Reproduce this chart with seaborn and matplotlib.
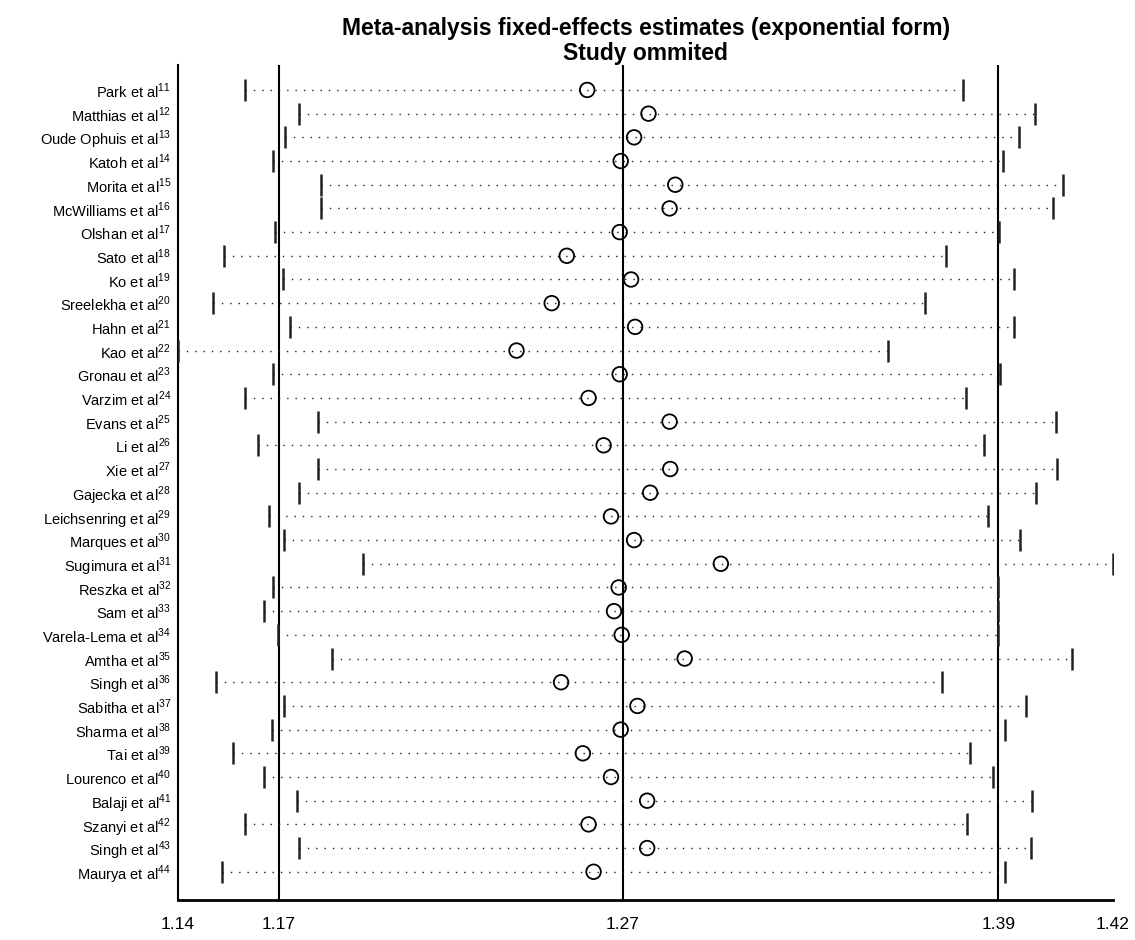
import numpy as np
import pandas as pd
import matplotlib.pyplot as plt
import seaborn as sns

studies = ["Park", "Matthias", "Oude Ophuis", "Katoh", "Morita", "McWilliams", "Olshan",
           "Sato", "Ko", "Sreelekha", "Hahn", "Kao", "Gronau", "Varzim", "Evans", "Li",
           "Xie", "Gajecka", "Leichsenring", "Marques", "Sugimura", "Reszka", "Sam",
           "Varela-Lema", "Amtha", "Singh", "Sabitha", "Sharma", "Tai", "Lourenco",
           "Balaji", "Szanyi", "Singh", "Maurya"]
refs = list(range(11, 45))

lower = [1.1617, 1.1778, 1.1737, 1.1703, 1.1845, 1.1845, 1.1707, 1.1554, 1.1731, 1.1522,
         1.1752, 1.1418, 1.1703, 1.1617, 1.1837, 1.1657, 1.1837, 1.1778, 1.1689, 1.1734,
         1.1971, 1.1703, 1.1675, 1.1717, 1.1877, 1.1532, 1.1734, 1.1698, 1.1581, 1.1676,
         1.1774, 1.1618, 1.1778, 1.1549]
estimate = [1.2640, 1.2823, 1.2780, 1.2740, 1.2903, 1.2886, 1.2737, 1.2579, 1.2771, 1.2534,
            1.2783, 1.2429, 1.2737, 1.2644, 1.2886, 1.2689, 1.2888, 1.2828, 1.2711, 1.2780,
            1.3039, 1.2734, 1.2720, 1.2743, 1.2931, 1.2562, 1.2790, 1.2740, 1.2627, 1.2711,
            1.2819, 1.2644, 1.2819, 1.2659]
upper = [1.3761, 1.3976, 1.3928, 1.3883, 1.4062, 1.4030, 1.3869, 1.3711, 1.3914, 1.3649,
         1.3914, 1.3537, 1.3872, 1.3770, 1.4040, 1.3824, 1.4044, 1.3981, 1.3837, 1.3931,
         1.4210, 1.3866, 1.3866, 1.3866, 1.4089, 1.3699, 1.3949, 1.3888, 1.3783, 1.3852,
         1.3968, 1.3775, 1.3964, 1.3888]

# overall fixed-effects estimate and its CI
overall = [1.1720, 1.2747, 1.3868]
axis_min, axis_max = 1.1418, 1.4210
tick_vals = [axis_min] + overall + [axis_max]
tick_labels = ["1.14", "1.17", "1.27", "1.39", "1.42"]

labels = [f"{s} et al$^{{\\mathregular{{{r}}}}}$" for s, r in zip(studies, refs)]
df = pd.DataFrame({"Study": labels, "Lower": lower, "Estimate": estimate, "Upper": upper})
df["pos"] = np.arange(len(df))

sns.set_style("white", {"text.color": "black", "xtick.color": "black", "ytick.color": "black"})
plt.rcParams['font.family'] = ['Liberation Sans', 'DejaVu Sans']
plt.rcParams['mathtext.fontset'] = 'custom'
plt.rcParams['mathtext.rm'] = 'Liberation Sans'

fig = plt.figure(figsize=(11.35, 9.40), dpi=100)
ax = fig.add_axes([0.1568, 0.0426, 0.8238, 0.8883])

# dotted CI lines
ax.hlines(df["pos"], df["Lower"], df["Upper"], colors="#222222",
          linestyles=(0, (1, 5)), linewidth=1.0, zorder=2)
# CI end bars
ax.plot(df["Lower"], df["pos"], linestyle="none", marker="|", markersize=16,
        markeredgewidth=1.8, color="#222222", zorder=3)
ax.plot(df["Upper"], df["pos"], linestyle="none", marker="|", markersize=16,
        markeredgewidth=1.8, color="#222222", zorder=3)

# reference lines for overall estimate
for v in overall:
    ax.axvline(v, color="black", linewidth=1.5, zorder=1)

# study-omitted estimates
sns.scatterplot(data=df, x="Estimate", y="pos", ax=ax, marker="o", s=110,
                facecolor="none", edgecolor="black", linewidth=1.3, zorder=4, legend=False)

ax.set_xlim(axis_min, axis_max)
ax.set_ylim(34.19, -1.055)
ax.set_yticks(df["pos"])
ax.set_yticklabels(df["Study"], fontsize=10.5, color="black")
ax.set_xticks(tick_vals)
ax.set_xticklabels(tick_labels, fontsize=12.5, color="black")
ax.tick_params(axis="y", length=0, pad=5)
ax.tick_params(axis="x", length=7, width=1.2, direction="out", pad=5, color="black")
ax.set_xlabel("")
ax.set_ylabel("")

sns.despine(ax=ax, top=True, right=True)
ax.spines["left"].set_linewidth(1.5)
ax.spines["bottom"].set_linewidth(2.0)
ax.spines["left"].set_color("black")
ax.spines["bottom"].set_color("black")

fig.suptitle("Meta-analysis fixed-effects estimates (exponential form)\nStudy ommited",
             x=0.5688, y=0.982, va="top", fontsize=16.5, fontweight="bold",
             linespacing=1.1, color="black")

fig.savefig("out.png", dpi=100, facecolor="white")
